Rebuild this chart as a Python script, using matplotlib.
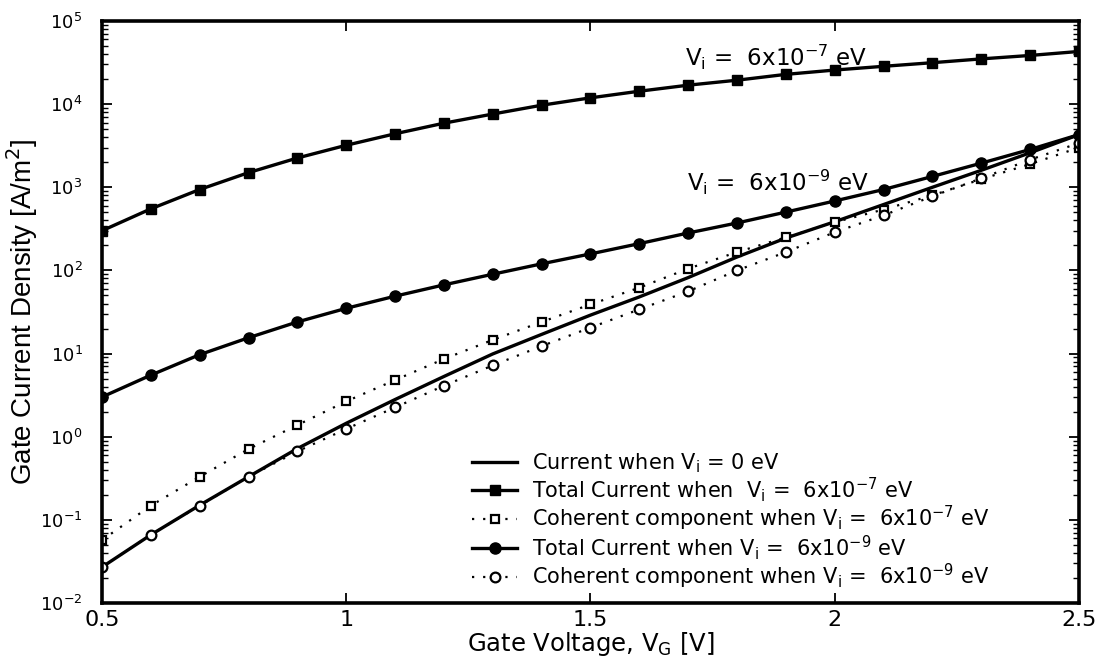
import matplotlib
matplotlib.use("Agg")
import matplotlib.pyplot as plt
import numpy as np

plt.rcParams["font.family"] = ["DejaVu Sans"]
plt.rcParams["mathtext.fontset"] = "dejavusans"

# gate voltage [V]
vg = [0.5, 0.6, 0.7, 0.8, 0.9, 1.0, 1.1, 1.2, 1.3, 1.4, 1.5,
      1.6, 1.7, 1.8, 1.9, 2.0, 2.1, 2.2, 2.3, 2.4, 2.5]

# current density [A/m^2]
j_zero = [0.027, 0.066, 0.15, 0.33, 0.72, 1.45, 2.8, 5.3, 9.9, 17, 29,
          48, 82, 145, 245, 385, 620, 1000, 1600, 2600, 4300]
j_tot7 = [300, 550, 940, 1500, 2250, 3200, 4400, 5900, 7600, 9700, 11900,
          14300, 16900, 19400, 22800, 25700, 28500, 31500, 35000, 38500, 43000]
j_coh7 = [0.057, 0.148, 0.33, 0.71, 1.38, 2.66, 4.8, 8.6, 14.6, 24, 39,
          62, 105, 166, 250, 380, 540, 800, 1250, 1900, 3000]
j_tot9 = [3.0, 5.5, 9.7, 15.5, 24, 35, 49, 67, 90, 120, 158,
          210, 282, 372, 503, 684, 940, 1350, 1950, 2850, 4300]
j_coh9 = [0.027, 0.066, 0.148, 0.33, 0.665, 1.24, 2.25, 4.1, 7.2, 12.3, 20.5,
          34, 56, 100, 166, 288, 460, 780, 1280, 2150, 3400]

fig = plt.figure(figsize=(11.07, 6.66), dpi=100)
ax = fig.add_axes([0.0921, 0.0946, 0.8826, 0.8739])

ax.plot(vg, j_zero, "k-", lw=2.4, label="Current when V$_\\mathrm{i}$ = 0 eV")
ax.plot(vg, j_tot7, "k-", lw=2.4, marker="s", ms=7,
        label="Total Current when  V$_\\mathrm{i}$ =  6x10$^{-7}$ eV")
ax.plot(vg, j_coh7, "k", ls=(0, (1, 4)), lw=1.6, marker="s", ms=6, mfc="white",
        mew=1.6, label="Coherent component when V$_\\mathrm{i}$ =  6x10$^{-7}$ eV")
ax.plot(vg, j_tot9, "k-", lw=2.4, marker="o", ms=8,
        label="Total Current when V$_\\mathrm{i}$ =  6x10$^{-9}$ eV")
ax.plot(vg, j_coh9, "k", ls=(0, (1, 4)), lw=1.6, marker="o", ms=7, mfc="white",
        mew=1.6, label="Coherent component when V$_\\mathrm{i}$ =  6x10$^{-9}$ eV")

ax.set_yscale("log")
ax.set_xlim(0.5, 2.5)
ax.set_ylim(1e-2, 1e5)
ax.set_xticks([0.5, 1, 1.5, 2, 2.5])
ax.set_xticklabels(["0.5", "1", "1.5", "2", "2.5"])
ax.set_yticks([10.0 ** k for k in range(-2, 6)])
ax.set_yticklabels(["10$^{%d}$" % k for k in range(-2, 6)])

ax.tick_params(which="both", direction="in", top=True, right=True)
ax.tick_params(axis="x", labelsize=16, pad=5)
ax.tick_params(axis="y", labelsize=13, pad=14)
ax.tick_params(which="major", length=7, width=1.3)
ax.tick_params(which="minor", length=4, width=1)
for s in ax.spines.values():
    s.set_linewidth(2.6)

ax.set_xlabel("Gate Voltage, V$_\\mathrm{G}$ [V]", fontsize=17.5, labelpad=0)
ax.set_ylabel("Gate Current Density [A/m$^2$]", fontsize=20, labelpad=0,
              family=["Liberation Sans Narrow", "Liberation Sans"])

ax.text(1.693, 3.68e4, "V$_\\mathrm{i}$ =  6x10$^{-7}$ eV", fontsize=16.5, va="center")
ax.text(1.697, 1.15e3, "V$_\\mathrm{i}$ =  6x10$^{-9}$ eV", fontsize=16.5, va="center")

ax.legend(loc="upper left", bbox_to_anchor=(0.379, 0.26), frameon=False,
          fontsize=15, handlelength=2.15, handletextpad=0.7,
          labelspacing=0.0, borderpad=0, borderaxespad=0)

fig.savefig("out.png", dpi=100)
